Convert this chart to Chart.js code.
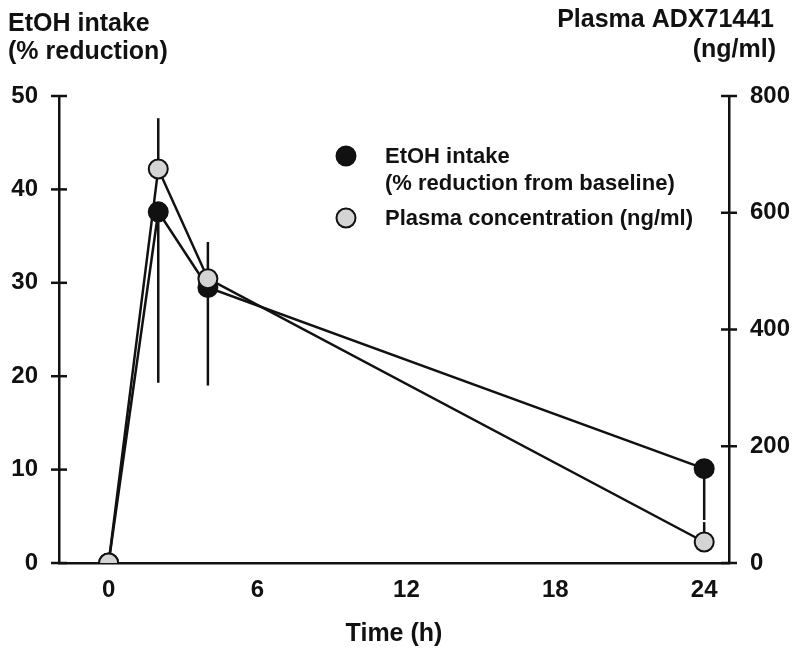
<!DOCTYPE html>
<html>
<head>
<meta charset="utf-8">
<script src="https://cdn.jsdelivr.net/npm/chart.js@4"></script>
<style>
  html, body { margin: 0; padding: 0; background: #fff; }
  #wrap { width: 800px; height: 656px; }
</style>
</head>
<body>
<div id="wrap"><canvas id="chart" width="800" height="656"></canvas></div>
<script>
const timeH = [0, 2, 4, 24];
const etohReduction = [0, 37.6, 29.5, 10.1];
const etohErrLow = [null, 19.3, 19.0, 4.6];
const plasmaNgMl = [0, 675, 487, 36];
const plasmaErrHigh = [null, 762, 550, 70];

const xTicks = [0, 6, 12, 18, 24];
const leftTicks = [0, 10, 20, 30, 40, 50];
const rightTicks = [0, 200, 400, 600, 800];

const FONT = "'Liberation Sans', Arial, sans-serif";
const INK = "#111";
const GREY = "#d4d4d4";

function pts(xs, ys) {
  return xs.map((x, i) => ({ x: x, y: ys[i] }));
}

/* ── error bars (one-sided, under the markers) ── */
const errorBars = {
  id: "errorBars",
  beforeDatasetsDraw(chart) {
    const ctx = chart.ctx;
    const xs = chart.scales.x;
    const sets = [
      { vals: etohReduction, ends: etohErrLow, scale: chart.scales.y },
      { vals: plasmaNgMl, ends: plasmaErrHigh, scale: chart.scales.y2 },
    ];
    ctx.save();
    ctx.strokeStyle = INK;
    ctx.lineWidth = 2.5;
    sets.forEach((s) => {
      s.ends.forEach((e, i) => {
        if (e == null) return;
        const px = xs.getPixelForValue(timeH[i]);
        ctx.beginPath();
        ctx.moveTo(px, s.scale.getPixelForValue(s.vals[i]));
        ctx.lineTo(px, s.scale.getPixelForValue(e));
        ctx.stroke();
      });
    });
    ctx.restore();
  },
};

/* ── tick marks crossing the y axes, titles, legend ── */
const decorations = {
  id: "decorations",
  afterDraw(chart) {
    const ctx = chart.ctx;
    ctx.save();
    ctx.strokeStyle = INK;
    ctx.lineWidth = 2.5;
    [chart.scales.y, chart.scales.y2].forEach((sc) => {
      const ax = sc.position === "left" ? sc.right : sc.left;
      sc.ticks.forEach((t) => {
        const py = sc.getPixelForValue(t.value);
        ctx.beginPath();
        ctx.moveTo(ax - 8, py);
        ctx.lineTo(ax + 8, py);
        ctx.stroke();
      });
    });

    ctx.fillStyle = INK;
    ctx.font = "bold 25px " + FONT;
    ctx.textAlign = "left";
    ctx.textBaseline = "alphabetic";
    ctx.fillText("EtOH intake", 8, 31);
    ctx.fillText("(% reduction)", 8, 59);
    ctx.textAlign = "right";
    ctx.fillText("Plasma ADX71441", 774, 27);
    ctx.fillText("(ng/ml)", 776, 57);
    ctx.textAlign = "center";
    ctx.fillText("Time (h)", 394, 641);

    // legend
    const ds = chart.data.datasets;
    const rows = [
      { ds: ds[1], y: 156, lines: ["EtOH intake", "(% reduction from baseline)"], base: 163 },
      { ds: ds[0], y: 218, lines: ["Plasma concentration (ng/ml)"], base: 225 },
    ];
    ctx.font = "bold 22px " + FONT;
    ctx.textAlign = "left";
    rows.forEach((r) => {
      ctx.beginPath();
      ctx.arc(346, r.y, 9.5, 0, Math.PI * 2);
      ctx.fillStyle = r.ds.pointBackgroundColor;
      ctx.fill();
      ctx.lineWidth = 2;
      ctx.strokeStyle = INK;
      ctx.stroke();
      ctx.fillStyle = INK;
      r.lines.forEach((l, i) => ctx.fillText(l, 385, r.base + i * 27));
    });
    ctx.restore();
  },
};

const tickFont = { family: FONT, size: 24, weight: "bold" };

new Chart(document.getElementById("chart"), {
  type: "line",
  data: {
    datasets: [
      {
        label: "Plasma concentration (ng/ml)",
        data: pts(timeH, plasmaNgMl),
        yAxisID: "y2",
        order: 1,
        borderColor: INK,
        borderWidth: 2.5,
        pointBackgroundColor: GREY,
        pointBorderColor: INK,
        pointBorderWidth: 2,
        pointRadius: 9.5,
        tension: 0,
      },
      {
        label: "EtOH intake (% reduction from baseline)",
        data: pts(timeH, etohReduction),
        yAxisID: "y",
        order: 2,
        borderColor: INK,
        borderWidth: 2.5,
        pointBackgroundColor: INK,
        pointBorderColor: INK,
        pointBorderWidth: 2,
        pointRadius: 9.5,
        tension: 0,
      },
    ],
  },
  options: {
    responsive: false,
    animation: false,
    layout: { padding: { top: 96, left: 0, right: 0, bottom: 0 } },
    plugins: { legend: { display: false }, tooltip: { enabled: false } },
    scales: {
      x: {
        type: "linear",
        min: -2,
        max: 25,
        afterBuildTicks: (s) => { s.ticks = xTicks.map((v) => ({ value: v })); },
        afterFit: (s) => { s.height = 93; },
        grid: { display: false },
        border: { display: true, color: INK, width: 2.5 },
        ticks: { color: INK, font: tickFont, padding: 5, maxRotation: 0 },
      },
      y: {
        position: "left",
        min: 0,
        max: 50,
        afterBuildTicks: (s) => { s.ticks = leftTicks.map((v) => ({ value: v })); },
        afterFit: (s) => { s.width = 59; },
        grid: { display: false },
        border: { display: true, color: INK, width: 2.5 },
        ticks: { color: INK, font: tickFont, padding: 13 },
      },
      y2: {
        position: "right",
        min: 0,
        max: 800,
        afterBuildTicks: (s) => { s.ticks = rightTicks.map((v) => ({ value: v })); },
        afterFit: (s) => { s.width = 71; },
        grid: { display: false },
        border: { display: true, color: INK, width: 2.5 },
        ticks: { color: INK, font: tickFont, padding: 13 },
      },
    },
  },
  plugins: [errorBars, decorations],
});
</script>
</body>
</html>
